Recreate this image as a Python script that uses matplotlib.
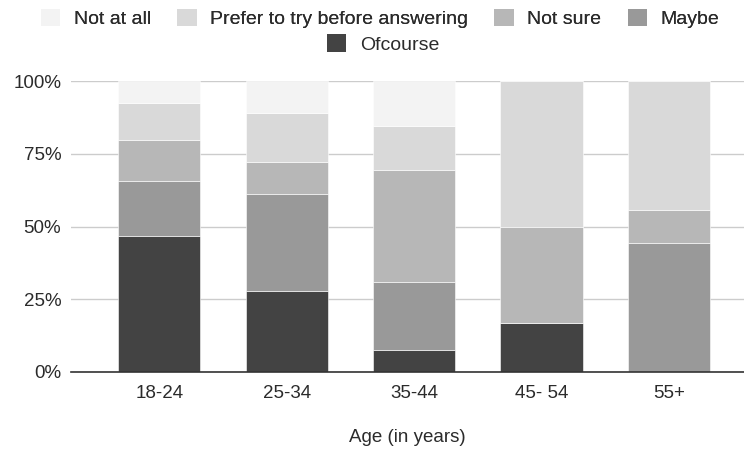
import matplotlib
matplotlib.use("Agg")
import matplotlib.pyplot as plt
from matplotlib.patches import Patch
import numpy as np

plt.rcParams['font.family'] = ['Liberation Sans', 'DejaVu Sans']

age_groups = ["18-24", "25-34", "35-44", "45- 54", "55+"]

# Share of respondents (%) per answer, bottom to top of each stack
ofcourse = [46.8, 27.8, 7.7, 16.7, 0.0]
maybe = [19.0, 33.3, 23.1, 0.0, 44.4]
not_sure = [13.9, 11.1, 38.5, 33.3, 11.1]
prefer_to_try = [12.7, 16.7, 15.4, 50.0, 44.5]
not_at_all = [7.6, 11.1, 15.3, 0.0, 0.0]

series = [
    ("Ofcourse", ofcourse, "#434343"),
    ("Maybe", maybe, "#999999"),
    ("Not sure", not_sure, "#b7b7b7"),
    ("Prefer to try before answering", prefer_to_try, "#d9d9d9"),
    ("Not at all", not_at_all, "#f3f3f3"),
]

text_color = "#2b2b2b"

fig = plt.figure(figsize=(7.44, 4.54), dpi=100)
ax = fig.add_axes([71 / 744, 1 - 372 / 454, (744 - 71) / 744, (372 - 81) / 454])

x = np.arange(len(age_groups))
bottom = np.zeros(len(age_groups))
for name, vals, color in series:
    vals = np.array(vals)
    ax.bar(x, vals, 0.646, bottom=bottom, color=color, label=name,
           edgecolor="white", linewidth=0.4, zorder=3)
    bottom += vals

ax.set_xlim(-0.693, 4.59)
ax.set_ylim(0, 100)
ax.set_yticks([0, 25, 50, 75, 100])
ax.set_yticklabels(["0%", "25%", "50%", "75%", "100%"])
ax.set_xticks(x)
ax.set_xticklabels(age_groups)
ax.grid(axis="y", color="#cccccc", linewidth=1, zorder=0)
for s in ["top", "right", "left"]:
    ax.spines[s].set_visible(False)
ax.spines["bottom"].set_color("#333333")
ax.spines["bottom"].set_linewidth(1.2)
ax.spines["bottom"].set_zorder(4)
ax.tick_params(axis="both", length=0, labelsize=13.5, labelcolor=text_color)
ax.tick_params(axis="x", pad=9)
ax.tick_params(axis="y", pad=7)
ax.set_xlabel("Age (in years)", fontsize=13.5, color=text_color, labelpad=20)

colors = {name: color for name, _, color in series}
legend_kw = dict(loc="center", frameon=False, fontsize=14, handlelength=1.0,
                 handleheight=1.0, handletextpad=0.7, labelcolor=text_color,
                 borderpad=0, borderaxespad=0)
row1 = ["Not at all", "Prefer to try before answering", "Not sure", "Maybe"]
h1 = [Patch(facecolor=colors[n], edgecolor="none") for n in row1]
leg1 = fig.legend(h1, row1, bbox_to_anchor=(380 / 744, 1 - 18.5 / 454), ncol=4,
                  columnspacing=1.35, **legend_kw)
h2 = [Patch(facecolor=colors["Ofcourse"], edgecolor="none")]
fig.legend(h2, ["Ofcourse"], bbox_to_anchor=(383 / 744, 1 - 44 / 454), ncol=1,
           **legend_kw)
fig.add_artist(leg1)

fig.savefig("out.png", dpi=100)
